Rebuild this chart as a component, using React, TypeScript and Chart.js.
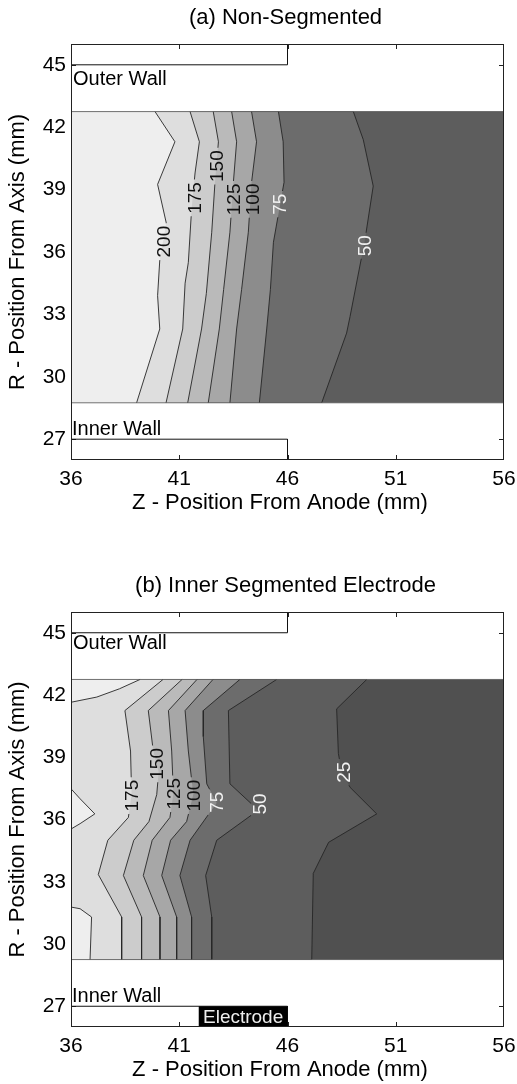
import React, { useEffect, useRef } from 'react';
import { Chart, registerables } from 'chart.js';

Chart.register(...registerables);

type Pt = [number, number];

const FONT = "'Liberation Sans', Arial, Helvetica, sans-serif";

// ---------- axes ----------
const Z_MIN = 36;
const Z_MAX = 56;
const R_MIN = 26;
const R_MAX = 46;
const Z_TICKS = [36, 41, 46, 51, 56];
const R_TICKS = [27, 30, 33, 36, 39, 42, 45];

// ---------- walls ----------
const WALL_Z_END = 46;
const OUTER_WALL_R = 45;
const INNER_WALL_R = 27;
const ELECTRODE_Z_START = 41.9;

// ---------- contour band shading (value band -> gray level) ----------
const BAND_EDGES = [25, 50, 75, 100, 125, 150, 175, 200];
const BAND_GRAYS = [80, 93, 108, 140, 167, 186, 204, 222, 238];

// ---------- (a) Non-Segmented ----------
const A_GAS_R = [28.75, 42.75];
const A_LEVELS = [50, 75, 100, 125, 150, 175, 200];
const A_C50: Pt[] = [[49.04, 42.75], [49.5, 41.4], [49.96, 39.17], [49.58, 36.6], [48.89, 32.9], [48.73, 32.1], [47.58, 28.75]];
const A_C75: Pt[] = [[45.58, 42.75], [45.8, 41.3], [45.84, 39.35], [45.35, 36.47], [45.21, 34.2], [45.04, 32.3], [44.7, 28.75]];
const A_C100: Pt[] = [[44.34, 42.75], [44.57, 41.3], [44.34, 39.35], [44.19, 36.95], [43.88, 34.2], [43.65, 32.3], [43.34, 28.75]];
const A_C125: Pt[] = [[43.42, 42.75], [43.65, 41.3], [43.5, 39.35], [43.34, 36.95], [43.05, 34.2], [42.85, 32.3], [42.34, 28.75]];
const A_C150: Pt[] = [[42.57, 42.75], [42.81, 41.3], [42.65, 39.35], [42.5, 36.95], [42.25, 34.0], [42.03, 32.3], [41.39, 28.75]];
const A_C175: Pt[] = [[41.5, 42.75], [41.93, 41.3], [41.73, 39.8], [41.57, 38.05], [41.42, 35.5], [41.27, 34.5], [41.16, 32.3], [40.39, 28.75]];
const A_C200: Pt[] = [[39.88, 42.75], [40.8, 41.3], [40.0, 39.25], [40.4, 37.4], [40.1, 35.6], [40.0, 33.9], [40.1, 32.3], [39.03, 28.75]];
const A_LABEL_TEXT = ['200', '175', '150', '125', '100', '75', '50'];
const A_LABEL_Z = [40.3, 41.7, 42.73, 43.5, 44.4, 45.62, 49.58];
const A_LABEL_R = [36.5, 38.6, 40.13, 38.53, 38.53, 38.3, 36.3];

// ---------- (b) Inner Segmented Electrode ----------
const B_GAS_R = [29.25, 42.75];
const B_LEVELS = [25, 50, 75, 100, 125, 150, 175];
const B_C25: Pt[] = [[49.66, 42.75], [48.27, 41.33], [48.35, 39.18], [48.5, 38.3], [48.89, 37.55], [50.12, 36.27], [47.9, 34.9], [47.19, 33.4], [47.12, 29.25]];
const B_C50: Pt[] = [[45.5, 42.75], [43.27, 41.25], [43.34, 37.72], [44.65, 36.45], [42.73, 35.0], [42.22, 33.3], [42.5, 31.3], [42.5, 29.25]];
const B_C75: Pt[] = [[43.8, 42.75], [42.11, 41.25], [42.11, 40.0], [42.27, 37.72], [42.73, 36.8], [41.5, 35.0], [41.03, 33.3], [41.57, 31.3], [41.57, 29.25]];
const B_C100: Pt[] = [[42.56, 42.75], [41.27, 41.25], [41.42, 39.3], [41.65, 37.2], [41.34, 35.9], [40.6, 35.0], [40.19, 33.3], [40.88, 31.3], [40.88, 29.25]];
const B_C125: Pt[] = [[41.82, 42.75], [40.5, 41.25], [40.65, 39.3], [40.73, 37.24], [40.57, 36.1], [39.75, 35.0], [39.34, 33.3], [40.11, 31.3], [40.11, 29.25]];
const B_C150: Pt[] = [[41.13, 42.75], [39.57, 41.25], [39.8, 39.3], [40.05, 38.3], [39.96, 37.2], [39.6, 35.9], [38.9, 35.0], [38.42, 33.3], [39.26, 31.3], [39.26, 29.25]];
const B_C175: Pt[] = [[40.25, 42.75], [38.49, 41.25], [38.75, 39.3], [38.8, 37.2], [38.65, 36.1], [37.7, 35.0], [37.26, 33.35], [38.34, 31.3], [38.34, 29.25]];
const B_EXTRA_LEVEL = 200;
const B_E200_TOP: Pt[] = [[36, 41.65], [37.19, 41.9], [38.24, 42.3], [39.19, 42.75]];
const B_E200_MID: Pt[] = [[36, 37.48], [36.42, 37.0], [37.1, 36.27], [36.42, 35.8], [36, 35.54]];
const B_E200_LOW: Pt[] = [[36, 31.78], [36.42, 31.7], [36.95, 31.3], [36.88, 29.25]];
const B_LABEL_TEXT = ['175', '150', '125', '100', '75', '50', '25'];
const B_LABEL_Z = [38.8, 39.98, 40.73, 41.65, 42.73, 44.73, 48.58];
const B_LABEL_R = [37.15, 38.68, 37.24, 37.15, 36.83, 36.75, 38.28];

interface Panel {
  title: string;
  levels: number[];
  contours: Pt[][];
  extras: Pt[][];
  extraLevel: number;
  gas: number[];
  labelText: string[];
  labelZ: number[];
  labelR: number[];
  outerLabelR: number;
  innerLabelR: number;
  electrode: boolean;
}

const PANEL_A: Panel = {
  title: '(a) Non-Segmented',
  levels: A_LEVELS,
  contours: [A_C50, A_C75, A_C100, A_C125, A_C150, A_C175, A_C200],
  extras: [],
  extraLevel: 200,
  gas: A_GAS_R,
  labelText: A_LABEL_TEXT,
  labelZ: A_LABEL_Z,
  labelR: A_LABEL_R,
  outerLabelR: 44.3,
  innerLabelR: 27.48,
  electrode: false,
};

const PANEL_B: Panel = {
  title: '(b) Inner Segmented Electrode',
  levels: B_LEVELS,
  contours: [B_C25, B_C50, B_C75, B_C100, B_C125, B_C150, B_C175],
  extras: [B_E200_TOP, B_E200_MID, B_E200_LOW],
  extraLevel: B_EXTRA_LEVEL,
  gas: B_GAS_R,
  labelText: B_LABEL_TEXT,
  labelZ: B_LABEL_Z,
  labelR: B_LABEL_R,
  outerLabelR: 44.49,
  innerLabelR: 27.46,
  electrode: true,
};

const gray = (g: number) => `rgb(${g},${g},${g})`;
const bandAbove = (lvl: number) => gray(BAND_GRAYS[BAND_EDGES.indexOf(lvl) + 1]);
const bandBelow = (lvl: number) => gray(BAND_GRAYS[BAND_EDGES.indexOf(lvl)]);
const toXY = (pts: Pt[]) => pts.map(([x, y]) => ({ x, y }));

const LABEL_SIZE = 19;
const TICK_SIZE = 21;
const TITLE_SIZE = 22;
const WALL_TEXT_SIZE = 20;

function makeDatasets(p: Panel) {
  const list: any[] = [];
  const [lo, hi] = p.gas;
  const polygon = (pts: Pt[], color: string) => ({
    data: toXY(pts), showLine: true, fill: 'shape', backgroundColor: color,
    borderWidth: 0, borderColor: 'rgba(0,0,0,0)', pointRadius: 0, tension: 0,
  });
  const stroke = (pts: Pt[], color: string, width: number, contour = false) => ({
    data: toXY(pts), showLine: true, fill: false, borderColor: color,
    borderWidth: width, pointRadius: 0, tension: 0, isContour: contour,
  });
  list.push(polygon([[Z_MIN, hi], [Z_MAX, hi], [Z_MAX, lo], [Z_MIN, lo]], bandBelow(p.levels[0])));
  p.contours.forEach((c, i) => {
    const poly: Pt[] = [[Z_MIN, c[0][1]], ...c, [Z_MIN, c[c.length - 1][1]]];
    list.push(polygon(poly, bandAbove(p.levels[i])));
  });
  p.extras.forEach((c) => {
    const last = c[c.length - 1];
    const poly: Pt[] = last[0] === Z_MIN ? c : [...c, [Z_MIN, last[1]]];
    list.push(polygon(poly, bandAbove(p.extraLevel)));
  });
  [...p.contours, ...p.extras].forEach((c) => list.push(stroke(c, '#262626', 0.9, true)));
  list.push(stroke([[Z_MIN, hi], [Z_MAX, hi]], '#555', 0.8));
  list.push(stroke([[Z_MIN, lo], [Z_MAX, lo]], '#555', 0.8));
  list.push(stroke([[Z_MIN, OUTER_WALL_R], [WALL_Z_END, OUTER_WALL_R], [WALL_Z_END, R_MAX]], '#111', 1));
  list.push(stroke([[Z_MIN, INNER_WALL_R], [WALL_Z_END, INNER_WALL_R], [WALL_Z_END, R_MIN]], '#111', 1));
  if (p.electrode) {
    list.push(polygon([[ELECTRODE_Z_START, INNER_WALL_R], [WALL_Z_END, INNER_WALL_R], [WALL_Z_END, R_MIN], [ELECTRODE_Z_START, R_MIN]], '#000'));
  }
  const n = list.length;
  list.forEach((d, i) => { d.order = n - i; });
  return list;
}

function makePlugin(p: Panel) {
  const labelBoxes = (chart: any) => {
    const ctx = chart.ctx;
    ctx.save();
    ctx.font = `${LABEL_SIZE}px ${FONT}`;
    const boxes = p.labelText.map((t, i) => {
      const x = chart.scales.x.getPixelForValue(p.labelZ[i]);
      const y = chart.scales.y.getPixelForValue(p.labelR[i]);
      const w = ctx.measureText(t).width;
      return { t, x, y, w, white: Number(t) <= 75 };
    });
    ctx.restore();
    return boxes;
  };
  return {
    id: 'panelDecor',
    beforeDatasetsDraw(chart: any) {
      const { ctx, chartArea: a, scales } = chart;
      ctx.save();
      ctx.strokeStyle = '#222';
      ctx.lineWidth = 1;
      ctx.beginPath();
      Z_TICKS.slice(1, -1).forEach((v) => {
        const x = Math.round(scales.x.getPixelForValue(v)) + 0.5;
        ctx.moveTo(x, a.top); ctx.lineTo(x, a.top + 5);
        ctx.moveTo(x, a.bottom); ctx.lineTo(x, a.bottom - 5);
      });
      R_TICKS.forEach((v) => {
        const y = Math.round(scales.y.getPixelForValue(v)) + 0.5;
        ctx.moveTo(a.left, y); ctx.lineTo(a.left + 5, y);
        ctx.moveTo(a.right, y); ctx.lineTo(a.right - 5, y);
      });
      ctx.stroke();
      ctx.restore();
    },
    beforeDatasetDraw(chart: any, args: any) {
      const ds = chart.data.datasets[args.index];
      if (!ds.isContour) return;
      const { ctx, chartArea: a } = chart;
      ctx.save();
      ctx.beginPath();
      ctx.rect(a.left - 10, a.top - 10, a.right - a.left + 20, a.bottom - a.top + 20);
      const capH = LABEL_SIZE * 0.78;
      labelBoxes(chart).forEach((b) => {
        ctx.rect(b.x - capH / 2 - 1.5, b.y - b.w / 2 - 2.5, capH + 3, b.w + 5);
      });
      ctx.clip('evenodd');
    },
    afterDatasetDraw(chart: any, args: any) {
      const ds = chart.data.datasets[args.index];
      if (!ds.isContour) return;
      chart.ctx.restore();
    },
    afterDatasetsDraw(chart: any) {
      const { ctx, chartArea: a, scales } = chart;
      ctx.save();
      ctx.font = `${LABEL_SIZE}px ${FONT}`;
      ctx.textAlign = 'center';
      ctx.textBaseline = 'middle';
      labelBoxes(chart).forEach((b) => {
        ctx.save();
        ctx.translate(b.x, b.y);
        ctx.rotate(-Math.PI / 2);
        ctx.fillStyle = b.white ? '#f2f2f2' : '#111';
        ctx.fillText(b.t, 0, 1);
        ctx.restore();
      });
      ctx.fillStyle = '#000';
      ctx.textAlign = 'left';
      ctx.font = `${WALL_TEXT_SIZE}px ${FONT}`;
      ctx.fillText('Outer Wall', a.left + 2, scales.y.getPixelForValue(p.outerLabelR));
      ctx.fillText('Inner Wall', a.left + 1, scales.y.getPixelForValue(p.innerLabelR));
      if (p.electrode) {
        const x0 = scales.x.getPixelForValue(ELECTRODE_Z_START);
        const x1 = scales.x.getPixelForValue(WALL_Z_END);
        const y0 = scales.y.getPixelForValue(INNER_WALL_R);
        ctx.fillStyle = '#eee';
        ctx.textAlign = 'center';
        ctx.font = `19px ${FONT}`;
        ctx.fillText('Electrode', (x0 + x1) / 2, (y0 + a.bottom) / 2 + 1);
      }
      ctx.restore();
    },
    afterDraw(chart: any) {
      const { ctx, chartArea: a } = chart;
      ctx.save();
      ctx.strokeStyle = '#222';
      ctx.lineWidth = 1;
      ctx.strokeRect(Math.round(a.left) + 0.5, Math.round(a.top) + 0.5, Math.round(a.right - a.left) - 1, Math.round(a.bottom - a.top) - 1);
      ctx.fillStyle = '#000';
      ctx.textAlign = 'center';
      ctx.textBaseline = 'middle';
      ctx.font = `${TITLE_SIZE}px ${FONT}`;
      ctx.fillText(p.title, (a.left + a.right) / 2 - 2, a.top - 26);
      ctx.fillText('Z - Position From Anode (mm)', 280, a.bottom + 43);
      ctx.restore();
    },
  };
}

function PanelChart({ panel, top, height, areaTop, areaBottom }: { panel: Panel; top: number; height: number; areaTop: number; areaBottom: number }) {
  const ref = useRef<HTMLCanvasElement>(null);
  useEffect(() => {
    const chart = new Chart(ref.current as HTMLCanvasElement, {
      type: 'scatter',
      data: { datasets: makeDatasets(panel) as any },
      options: {
        responsive: false,
        animation: false,
        devicePixelRatio: 1,
        events: [],
        layout: { padding: { left: 0, right: 13, top: areaTop, bottom: 0 } },
        plugins: { legend: { display: false }, tooltip: { enabled: false }, title: { display: false } },
        scales: {
          x: {
            type: 'linear', min: Z_MIN, max: Z_MAX,
            afterBuildTicks: (s: any) => { s.ticks = Z_TICKS.map((v) => ({ value: v })); },
            afterFit: (s: any) => { s.height = height - areaBottom; s.paddingLeft = 0; s.paddingRight = 0; },
            grid: { display: false, drawTicks: false },
            border: { display: false },
            ticks: { padding: 7, color: '#000', maxRotation: 0, autoSkip: false, font: { size: TICK_SIZE, family: FONT } },
          },
          y: {
            type: 'linear', min: R_MIN, max: R_MAX,
            afterBuildTicks: (s: any) => { s.ticks = R_TICKS.map((v) => ({ value: v })); },
            afterFit: (s: any) => { s.width = 71; s.paddingTop = 0; s.paddingBottom = 0; },
            grid: { display: false, drawTicks: false },
            border: { display: false },
            ticks: { padding: 5, color: '#000', autoSkip: false, font: { size: TICK_SIZE, family: FONT } },
            title: { display: true, text: 'R - Position From Axis (mm)', color: '#000', font: { size: TITLE_SIZE, family: FONT }, padding: { top: 5, bottom: 0 } },
          },
        },
      } as any,
      plugins: [makePlugin(panel)],
    });
    return () => chart.destroy();
  }, []);
  return (
    <canvas ref={ref} width={517} height={height} style={{ position: 'absolute', left: 0, top, width: 517, height }} />
  );
}

export default function App() {
  return (
    <div style={{ position: 'absolute', left: 0, top: 0, width: 517, height: 1084, background: '#fff', overflow: 'hidden' }}>
      <PanelChart panel={PANEL_A} top={0} height={540} areaTop={44} areaBottom={460} />
      <PanelChart panel={PANEL_B} top={540} height={544} areaTop={72} areaBottom={487} />
    </div>
  );
}
